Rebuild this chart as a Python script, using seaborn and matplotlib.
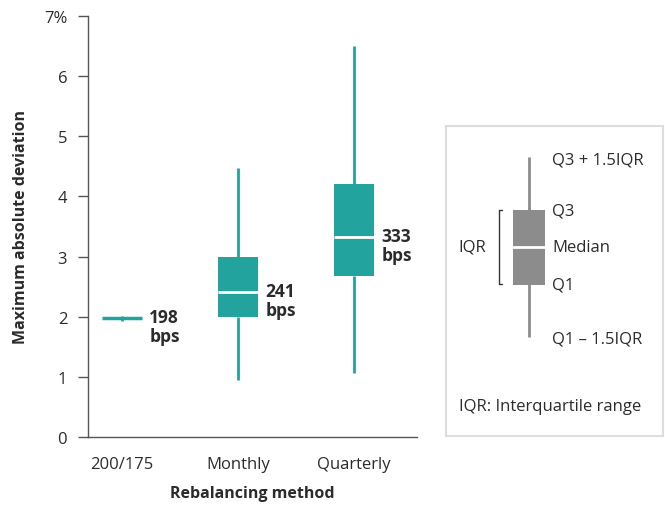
import numpy as np
import pandas as pd
import matplotlib
matplotlib.use("Agg")
import matplotlib.pyplot as plt
from matplotlib.patches import Rectangle
import seaborn as sns

# ---- data ----
methods = ["200/175", "Monthly", "Quarterly"]
whisker_low = [1.93, 0.94, 1.06]
q1 = [1.975, 2.00, 2.67]
median = [1.98, 2.41, 3.33]
q3 = [1.985, 2.99, 4.21]
whisker_high = [2.02, 4.47, 6.50]
median_labels = ["198\nbps", "241\nbps", "333\nbps"]
yticks = [0, 1, 2, 3, 4, 5, 6, 7]
ytick_labels = ["0", "1", "2", "3", "4", "5", "6", "7%"]

TEAL = "#22a39e"
GREY = "#8c8c8c"
TXT = "#2b2b2b"

rows = []
for m, a, b, c, d, e in zip(methods, whisker_low, q1, median, q3, whisker_high):
    for v in (a, b, c, d, e):
        rows.append({"method": m, "value": v})
df = pd.DataFrame(rows)

sns.set_theme(style="white")
plt.rcParams["font.family"] = ["Open Sans", "DejaVu Sans"]

fig = plt.figure(figsize=(6.65, 5.06), dpi=100)
ax = fig.add_axes([88 / 665, 68 / 506, (417 - 88) / 665, (438 - 17) / 506])

BW = 0.35
sns.boxplot(data=df, x="method", y="value", order=methods, ax=ax,
            color=TEAL, saturation=1, width=BW, whis=(0, 100),
            linecolor=TEAL, linewidth=2, showcaps=False, fliersize=0,
            boxprops=dict(edgecolor=TEAL, linewidth=0),
            medianprops=dict(color="white", linewidth=2),
            whiskerprops=dict(color=TEAL, linewidth=2))

# the 200/175 box is collapsed: show its median as a teal line
for ln in ax.lines:
    xd = np.asarray(ln.get_xdata(), dtype=float)
    if xd.size and xd.mean() < 0.5 and matplotlib.colors.to_hex(ln.get_color()) == "#ffffff":
        ln.set_color(TEAL)
        ln.set_linewidth(2.5)

for i, (m, lab) in enumerate(zip(median, median_labels)):
    ax.annotate(lab, xy=(i + BW / 2, m), xytext=(5, 7), textcoords="offset points",
                ha="left", va="top", fontsize=12.5, fontweight="bold",
                color=TXT, linespacing=1.05)

ax.set_xlim(-0.293, 2.543)
ax.set_ylim(0, 7)
ax.set_yticks(yticks)
ax.set_yticklabels(ytick_labels)
ax.tick_params(axis="y", which="both", left=True, length=7, width=1, color="#555555",
               labelsize=12, labelcolor=TXT, pad=8)
ax.tick_params(axis="x", bottom=False, labelsize=12, labelcolor=TXT, pad=8)
for s in ["top", "right"]:
    ax.spines[s].set_visible(False)
for s in ["left", "bottom"]:
    ax.spines[s].set_color("#555555")
    ax.spines[s].set_linewidth(1)
ax.set_xlabel("Rebalancing method", fontsize=11.5, fontweight="bold", color=TXT, labelpad=9)
ax.set_ylabel("Maximum absolute deviation", fontsize=11.5, fontweight="bold", color=TXT, labelpad=11)

# ---- explanatory key (schematic, in pixel coordinates) ----
lx = fig.add_axes([0, 0, 1, 1], facecolor="none")
lx.set_xlim(0, 665)
lx.set_ylim(506, 0)
lx.axis("off")
lx.add_patch(Rectangle((446, 127), 217, 310, fill=False, edgecolor="#dddddd", linewidth=1.5))
lx.plot([529, 529], [158, 338], color=GREY, linewidth=2, solid_capstyle="butt")
lx.add_patch(Rectangle((513, 211), 32, 75, facecolor=GREY, edgecolor="none", zorder=3))
lx.plot([513, 545], [248, 248], color="white", linewidth=2, zorder=4)
lx.plot([502, 499, 499, 502], [211, 211, 285, 285], color="#333333", linewidth=1)
kw = dict(fontsize=12, color=TXT, va="center", ha="left")
lx.text(552, 160, "Q3 + 1.5IQR", **kw)
lx.text(552, 212, "Q3", **kw)
lx.text(552, 248, "Median", **kw)
lx.text(552, 286, "Q1", **kw)
lx.text(552, 340, "Q1 \u2013 1.5IQR", **kw)
lx.text(458, 248, "IQR", **kw)
lx.text(459, 407, "IQR: Interquartile range", **kw)

fig.savefig("out.png", dpi=100)
